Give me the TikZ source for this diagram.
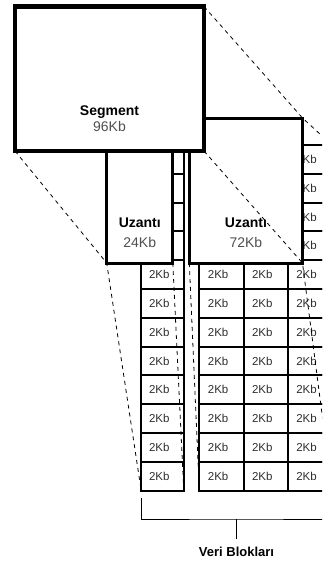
\documentclass[tikz,border=0pt]{standalone}
\usepackage{fontspec}
\setmainfont{Liberation Sans}
\usetikzlibrary{positioning}
\definecolor{kbgray}{HTML}{2E2E2E}
\definecolor{sizegray}{HTML}{505050}

\begin{document}
\begin{tikzpicture}[x=1pt, y=-1pt,
  every node/.style={outer sep=0pt},
  seg/.style={rectangle, draw, line width=4.5pt, fill=white,
    minimum width=189pt, minimum height=144.5pt, inner sep=0pt},
  ext/.style={rectangle, draw, line width=3pt, fill=white, inner sep=0pt},
  blk/.style={rectangle, draw, line width=2pt, minimum height=28.8pt,
    inner sep=0pt, text width=27pt, align=left, text=kbgray,
    font=\fontsize{11.5}{13}\selectfont},
  boxtxt/.style={align=center, inner sep=0pt, font=\fontsize{14}{16}\selectfont},
  zoom/.style={dash pattern=on 4pt off 4pt, line width=0.8pt},
  brace/.style={line width=0.9pt}]

\useasboundingbox (0,0) rectangle (322,562);
\clip (0,0) rectangle (322,562);

% data blocks, 12 rows (top four rows sit under the extents)
\foreach \r in {1,...,12}{
  \ifnum\r<5 \def\kb{}\else\def\kb{2Kb}\fi
  \node[blk, minimum width=42.6pt] (l-\r) at (162.5,130.6+28.8*\r) {\kb};
  \node[blk, minimum width=44.2pt] (g1-\r) at (221.4,130.6+28.8*\r) {\kb};
  \node[blk, minimum width=44.2pt] (g2-\r) at (265.6,130.6+28.8*\r) {\kb};
  \node[blk, minimum width=44.2pt] (g3-\r) at (309.8,130.6+28.8*\r) {2Kb};
}

\node[ext, minimum width=66.1pt, minimum height=118pt] (u24) at (139.75,204) {};
\node[ext, minimum width=113.2pt, minimum height=145pt] (u72) at (245.9,190.5) {};
\node[seg] (seg) at (109.5,78.75) {};

\node[boxtxt] (segtxt) at ([yshift=32pt]seg.south) {\textbf{Segment}\\\textcolor{sizegray}{96Kb}};
\node[boxtxt, font=\fontsize{14}{20}\selectfont] (u24txt) at ([yshift=30pt]u24.south) {\textbf{Uzantı}\\\textcolor{sizegray}{24Kb}};
\node[boxtxt, font=\fontsize{14}{20}\selectfont] (u72txt) at ([yshift=30pt]u72.south) {\textbf{Uzantı}\\\textcolor{sizegray}{72Kb}};

\draw[zoom] (seg.north east) -- (u72.north east) -- (g3-1.north east);
\draw[zoom] (seg.south east) -- (u72.south east) -- (g3-12.south east);
\draw[zoom] (seg.south west) -- (u24.south west) -- (l-12.south west);
\draw[zoom] (u24.south east) -- (l-12.south east);
\draw[zoom] (u72.south west) -- (g1-12.south west);

% bracket under the blocks
\coordinate (brL) at ([yshift=-7pt]l-12.south west);
\coordinate (brR) at ([yshift=-7pt]g3-12.south east);
\coordinate (brM) at (236.5,519);
\node[font=\fontsize{13}{15}\selectfont\bfseries, inner sep=8pt] (veri) at (236.5,552) {Veri Blokları};
\draw[brace] (brL) |- (brM) -| (brR);
\draw[brace] (brM) -- (veri);

\end{tikzpicture}
\end{document}
